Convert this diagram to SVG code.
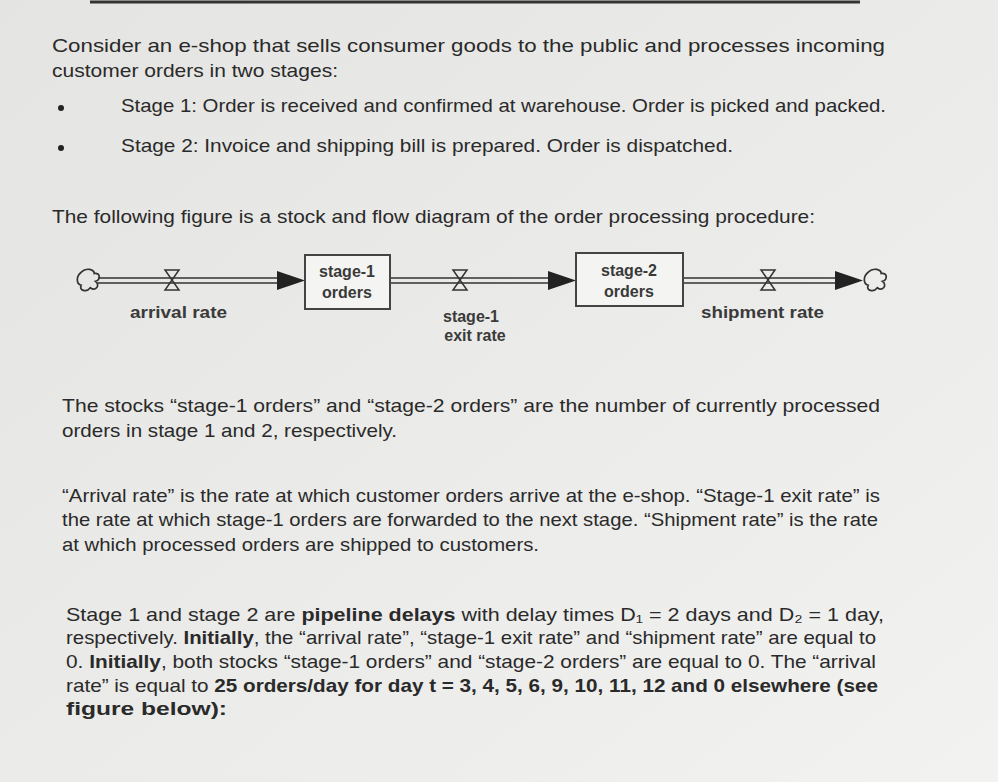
<svg xmlns="http://www.w3.org/2000/svg" width="998" height="782" viewBox="0 0 998 782">
<defs>
<linearGradient id="bg" x1="0" y1="0" x2="1" y2="1">
<stop offset="0" stop-color="#e4e4e2"/><stop offset="0.6" stop-color="#ececea"/><stop offset="1" stop-color="#f2f2f0"/>
</linearGradient>
<g id="valve"><path d="M-7,-10 L7,-10 L-7,10 L7,10 Z" fill="none" stroke="#333" stroke-width="1.5"/></g>
<g id="cloud"><path transform="scale(1.3)" d="M-6,-6 C-2,-10 4,-8 4,-5 C9,-6 9,0 5,1 C9,4 5,9 1,6 C-2,10 -8,8 -6,4 C-10,3 -10,-3 -6,-6 Z" fill="none" stroke="#333" stroke-width="1.3"/></g>
</defs>
<style>
.t{font-family:"Liberation Sans",Arial,sans-serif;font-size:19px;fill:#2a2a2a}
.d{font-family:"Liberation Sans",Arial,sans-serif;font-size:16px;font-weight:bold;fill:#3a3a3a}
.b{font-weight:bold}
.pipe{stroke:#333;stroke-width:1.5;fill:none}
.box{fill:#f4f4f2;stroke:#444;stroke-width:2}
</style>
<rect width="998" height="782" fill="url(#bg)"/>
<line x1="90" y1="2" x2="860" y2="2" stroke="#333" stroke-width="3"/>
<g id="text">
<text class="t" x="52" y="52" textLength="833" lengthAdjust="spacingAndGlyphs">Consider an e-shop that sells consumer goods to the public and processes incoming</text>
<text class="t" x="52" y="77" textLength="286" lengthAdjust="spacingAndGlyphs">customer orders in two stages:</text>
<circle cx="61" cy="108" r="3" fill="#222"/>
<circle cx="61" cy="148" r="3" fill="#222"/>
<text class="t" x="121" y="112" textLength="765" lengthAdjust="spacingAndGlyphs">Stage 1: Order is received and confirmed at warehouse. Order is picked and packed.</text>
<text class="t" x="121" y="152" textLength="612" lengthAdjust="spacingAndGlyphs">Stage 2: Invoice and shipping bill is prepared. Order is dispatched.</text>
<text class="t" x="52" y="223" textLength="763" lengthAdjust="spacingAndGlyphs">The following figure is a stock and flow diagram of the order processing procedure:</text>
<text class="t" x="62" y="412" textLength="818" lengthAdjust="spacingAndGlyphs">The stocks “stage-1 orders” and “stage-2 orders” are the number of currently processed</text>
<text class="t" x="62" y="437" textLength="335" lengthAdjust="spacingAndGlyphs">orders in stage 1 and 2, respectively.</text>
<text class="t" x="62" y="502" textLength="818" lengthAdjust="spacingAndGlyphs">“Arrival rate” is the rate at which customer orders arrive at the e-shop. “Stage-1 exit rate” is</text>
<text class="t" x="62" y="526" textLength="816" lengthAdjust="spacingAndGlyphs">the rate at which stage-1 orders are forwarded to the next stage. “Shipment rate” is the rate</text>
<text class="t" x="62" y="551" textLength="477" lengthAdjust="spacingAndGlyphs">at which processed orders are shipped to customers.</text>
<text class="t" x="66" y="621" textLength="818" lengthAdjust="spacingAndGlyphs">Stage 1 and stage 2 are <tspan class="b">pipeline delays</tspan> with delay times D₁ = 2 days and D₂ = 1 day,</text>
<text class="t" x="66" y="644" textLength="810" lengthAdjust="spacingAndGlyphs">respectively. <tspan class="b">Initially</tspan>, the “arrival rate”, “stage-1 exit rate” and “shipment rate” are equal to</text>
<text class="t" x="66" y="668" textLength="810" lengthAdjust="spacingAndGlyphs">0. <tspan class="b">Initially</tspan>, both stocks “stage-1 orders” and “stage-2 orders” are equal to 0. The “arrival</text>
<text class="t" x="66" y="692" textLength="812" lengthAdjust="spacingAndGlyphs">rate” is equal to <tspan class="b">25 orders/day for day t = 3, 4, 5, 6, 9, 10, 11, 12 and 0 elsewhere (see</tspan></text>
<text class="t b" x="66" y="715" textLength="161" lengthAdjust="spacingAndGlyphs">figure below):</text>
</g>
<g id="connectors">
<path class="pipe" d="M98,278 H280 M98,283 H280"/>
<path d="M277,271 L305,280.5 L277,290 Z" fill="#222"/>
<path class="pipe" d="M390,278 H550 M390,283 H550"/>
<path d="M548,271 L576,280.5 L548,290 Z" fill="#222"/>
<path class="pipe" d="M683,278 H838 M683,283 H838"/>
<path d="M835,271 L863,280.5 L835,290 Z" fill="#222"/>
</g>
<g id="source"><use href="#cloud" x="89" y="280"/></g>
<g id="sink"><use href="#cloud" x="876" y="280"/></g>
<g id="arrival-rate"><use href="#valve" x="172" y="280"/><text class="d" x="130" y="318" textLength="97" lengthAdjust="spacingAndGlyphs">arrival rate</text></g>
<g id="stage-1-orders"><rect class="box" x="305" y="255" width="85" height="54"/><text class="d" x="347" y="277" text-anchor="middle">stage-1</text><text class="d" x="347" y="298" text-anchor="middle">orders</text></g>
<g id="stage-1-exit-rate"><use href="#valve" x="460" y="280"/><text class="d" x="471" y="322" text-anchor="middle">stage-1</text><text class="d" x="475" y="341" text-anchor="middle">exit rate</text></g>
<g id="stage-2-orders"><rect class="box" x="576" y="253" width="107" height="53"/><text class="d" x="629" y="276" text-anchor="middle">stage-2</text><text class="d" x="629" y="297" text-anchor="middle">orders</text></g>
<g id="shipment-rate"><use href="#valve" x="768" y="280"/><text class="d" x="701" y="318" textLength="123" lengthAdjust="spacingAndGlyphs">shipment rate</text></g>
</svg>
